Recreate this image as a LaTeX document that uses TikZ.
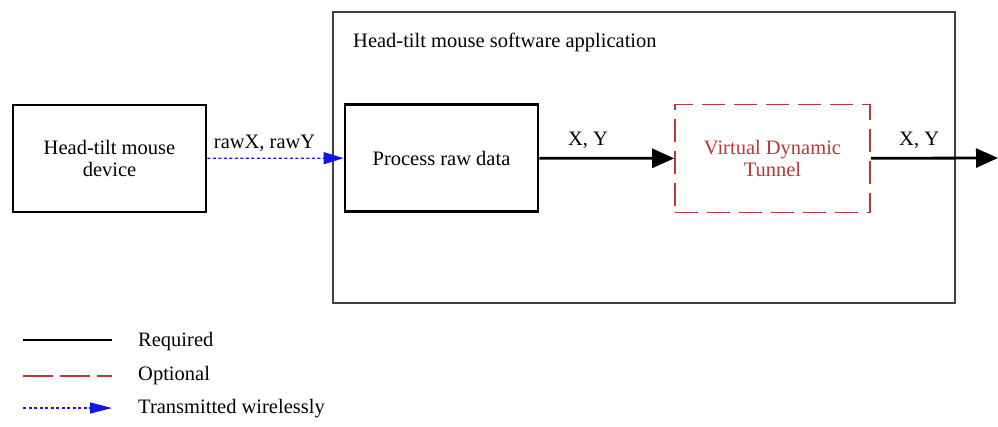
\documentclass[tikz,border=0pt]{standalone}
\usepackage{fontspec}
\setmainfont{Liberation Serif}
\usetikzlibrary{arrows.meta}

\definecolor{tunnelred}{RGB}{185,55,55}
\definecolor{wireblue}{RGB}{20,20,230}

\tikzset{
  block/.style={draw, line width=2.8pt, minimum height=107pt, align=center, inner sep=0pt},
  optblock/.style={draw=tunnelred, dash pattern=on 23pt off 9pt, line width=1.6pt,
    minimum width=195pt, minimum height=108pt, align=center, text=tunnelred, inner sep=0pt},
  required/.style={line width=2.8pt, -{Triangle[length=22pt,width=19pt]}},
  wireless/.style={wireblue, line width=1.3pt, dash pattern=on 3pt off 2.5pt,
    -{Triangle[length=20pt,width=12pt]}},
  lbl/.style={inner sep=1pt, text=black}
}

\begin{document}
\begin{tikzpicture}[x=1pt, y=-1pt, font=\fontsize{20.5}{22.5}\selectfont]
\useasboundingbox (0,0) rectangle (998,426);

\node[draw=black!75, line width=1.3pt, minimum width=622pt, minimum height=291pt] (app) at (644,157.5) {};
\node[anchor=west, lbl] (apptitle) at (352,42) {Head-tilt mouse software application};

\node[block, minimum width=193pt] (device) at (109.5,158.5) {Head-tilt mouse\\device};
\node[block, minimum width=193pt] (process) at (441.5,158) {Process raw data};
\node[optblock] (tunnel) at (772.5,158.5) {Virtual Dynamic\\Tunnel};
\coordinate (out) at (998,158);

\draw[wireless] (device) -- (process) node[pos=0.42, above=5pt, lbl] {rawX, rawY};
\draw[required] (process) -- (tunnel) node[pos=0.36, above=7pt, lbl] {X, Y};
\draw[required] (tunnel) -- (out) node[pos=0.38, above=7pt, lbl] {X, Y};

% legend
\coordinate (reqa) at (23,340);
\coordinate (reqb) at (112,340);
\coordinate (opta) at (23,376);
\coordinate (optb) at (112,376);
\coordinate (wira) at (23,408);
\coordinate (wirb) at (112,408);
\draw[line width=2.8pt] (reqa) -- (reqb);
\draw[tunnelred, line width=1.4pt, dash pattern=on 30pt off 7pt] (opta) -- (optb);
\draw[wireless, -{Triangle[length=22pt,width=11pt]}] (wira) -- (wirb);
\node[anchor=west, lbl] (reqtxt) at (137,342) {Required};
\node[anchor=west, lbl] (opttxt) at (137,376) {Optional};
\node[anchor=west, lbl] (wirtxt) at (137,409) {Transmitted wirelessly};
\end{tikzpicture}
\end{document}
